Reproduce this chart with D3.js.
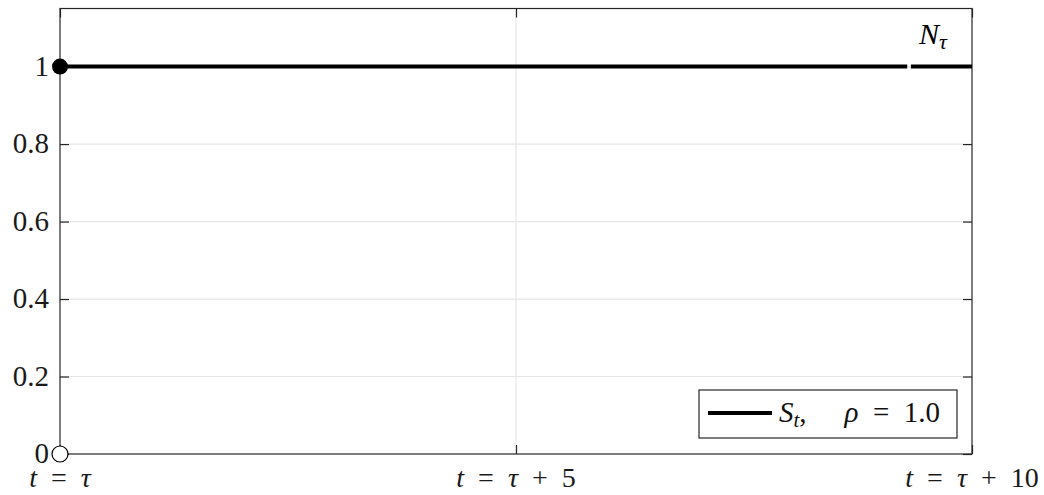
<!DOCTYPE html>
<html><head><meta charset="utf-8">
<script src="https://cdn.jsdelivr.net/npm/d3@7"></script>
<style>
body{margin:0;background:#fff;}
text{font-family:"Liberation Serif","Times New Roman",serif;}
</style></head>
<body>
<svg id="c" width="1044" height="495"></svg>
<script>
const xTicks = [0, 5, 10];
const xTickLabels = ["τ", "τ + 5", "τ + 10"];
const yTicks = [0, 0.2, 0.4, 0.6, 0.8, 1];
const yTickLabels = ["0", "0.2", "0.4", "0.6", "0.8", "1"];
const seriesT = [0, 9.29, 9.33, 10];
const seriesS = [1, 1, 1, 1];
const segmentBreaks = [1]; // break after index 1
const filledPoint = [0, 1];
const openPoint = [0, 0];
const xDomain = [0, 10];
const yDomain = [0, 1.15];

const svg = d3.select("#c");
const L = 60, R = 972, T = 8.5, B = 454;
const x = d3.scaleLinear().domain(xDomain).range([L, R]);
const y = d3.scaleLinear().domain(yDomain).range([B, T]);
const axisColor = "#262626";
const FS = 29;
const SP = "\u2002"; // wider math spacing

// gridlines
svg.append("g").selectAll("line").data(yTicks.filter(v => v > 0 && v < 1.15)).join("line")
  .attr("x1", L).attr("x2", R).attr("y1", d => y(d)).attr("y2", d => y(d))
  .attr("stroke", "#e6e6e6").attr("stroke-width", 1.2);
svg.append("g").selectAll("line").data(xTicks.filter(v => v > 0 && v < 10)).join("line")
  .attr("y1", T).attr("y2", B).attr("x1", d => x(d)).attr("x2", d => x(d))
  .attr("stroke", "#e6e6e6").attr("stroke-width", 1.2);

// axes with inward ticks
function styleAxis(g){
  g.select(".domain").remove();
  g.selectAll(".tick line").attr("stroke", axisColor).attr("stroke-width", 1.2);
  g.selectAll(".tick text").remove();
}
svg.append("g").attr("transform", `translate(0,${B})`)
  .call(d3.axisBottom(x).tickValues(xTicks).tickSize(-9)).call(styleAxis);
svg.append("g").attr("transform", `translate(0,${T})`)
  .call(d3.axisTop(x).tickValues(xTicks).tickSize(-9)).call(styleAxis);
svg.append("g").attr("transform", `translate(${L},0)`)
  .call(d3.axisLeft(y).tickValues(yTicks).tickSize(-9)).call(styleAxis);
svg.append("g").attr("transform", `translate(${R},0)`)
  .call(d3.axisRight(y).tickValues(yTicks).tickSize(-9)).call(styleAxis);

svg.append("rect").attr("x", L).attr("y", T).attr("width", R - L).attr("height", B - T)
  .attr("fill", "none").attr("stroke", axisColor).attr("stroke-width", 1.2);

// y tick labels
svg.append("g").selectAll("text").data(yTicks).join("text")
  .attr("x", L - 11).attr("y", d => y(d)).attr("dy", "0.32em")
  .attr("text-anchor", "end").attr("font-size", FS).attr("fill", "#1a1a1a")
  .text((d, i) => yTickLabels[i]);

// x tick labels
const xl = svg.append("g").selectAll("text").data(xTicks).join("text")
  .attr("x", d => x(d)).attr("y", 487)
  .attr("text-anchor", "middle").attr("font-size", 28).attr("fill", "#1a1a1a");
xl.each(function(d, i){
  const t = d3.select(this);
  t.append("tspan").attr("font-style", "italic").text("t");
  t.append("tspan").text(SP + "=" + SP);
  const parts = xTickLabels[i].split(" + ");
  t.append("tspan").attr("font-style", "italic").text(parts[0]);
  if (parts[1]) t.append("tspan").text(SP + "+" + SP + parts[1]);
});

// series line (segments)
const pts = seriesT.map((t, i) => [t, seriesS[i]]);
const segs = [];
let start = 0;
segmentBreaks.concat([pts.length - 1]).forEach(b => { segs.push(pts.slice(start, b + 1)); start = b + 1; });
const line = d3.line().x(d => x(d[0])).y(d => y(d[1]));
svg.append("g").selectAll("path").data(segs).join("path")
  .attr("d", line).attr("fill", "none").attr("stroke", "#000").attr("stroke-width", 4);

// points
svg.append("circle").attr("cx", x(filledPoint[0])).attr("cy", y(filledPoint[1])).attr("r", 8)
  .attr("fill", "#000");
svg.append("circle").attr("cx", x(openPoint[0])).attr("cy", y(openPoint[1])).attr("r", 8)
  .attr("fill", "#fff").attr("stroke", "#000").attr("stroke-width", 1.2);

// N_tau label
const nt = svg.append("text").attr("x", 919).attr("y", 44).attr("font-size", 30).attr("fill", "#000");
nt.append("tspan").attr("font-style", "italic").text("N");
nt.append("tspan").attr("font-style", "italic").attr("font-size", 22).attr("dy", 5).text("τ");

// legend
svg.append("rect").attr("x", 699).attr("y", 390).attr("width", 258).attr("height", 48)
  .attr("fill", "#fff").attr("stroke", "#262626").attr("stroke-width", 1.2);
svg.append("line").attr("x1", 708).attr("x2", 772).attr("y1", 413).attr("y2", 413)
  .attr("stroke", "#000").attr("stroke-width", 4);
const lg = svg.append("text").attr("x", 779).attr("y", 422).attr("font-size", FS).attr("fill", "#111");
lg.append("tspan").attr("font-style", "italic").text("S");
lg.append("tspan").attr("font-style", "italic").attr("font-size", 21).attr("dy", 5).text("t");
lg.append("tspan").attr("dy", -5).text(",");
lg.append("tspan").attr("dx", 38).attr("font-style", "italic").text("ρ");
lg.append("tspan").text(SP + "=" + SP + "1.0");
</script>
</body></html>
